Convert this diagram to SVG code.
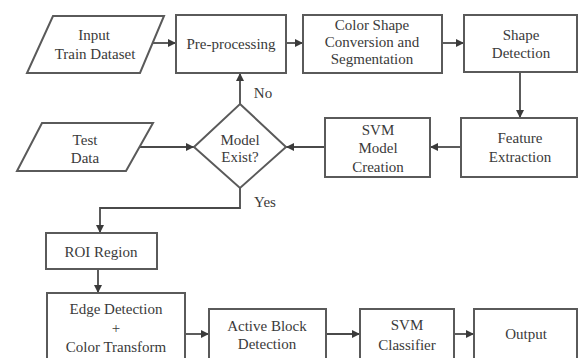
<svg xmlns="http://www.w3.org/2000/svg" width="579" height="358" viewBox="0 0 579 358" font-family="'Liberation Serif', 'DejaVu Serif', serif">
  <defs>
    <marker id="arrow" viewBox="0 0 10 10" refX="10" refY="5" markerWidth="8" markerHeight="8" markerUnits="userSpaceOnUse" orient="auto">
      <path d="M0,0 L10,5 L0,10 Z" fill="#3a3a3a"/>
    </marker>
    <style>
      .shape { fill: #ffffff; stroke: #5a5a5a; stroke-width: 2; }
      .label { font-family: 'Liberation Serif', 'DejaVu Serif', serif; font-size: 15px; fill: #3a3a3a; text-anchor: middle; }
      .conn { fill: none; stroke: #4a4a4a; stroke-width: 1.8; marker-end: url(#arrow); }
    </style>
  </defs>
  <rect width="579" height="358" fill="#ffffff"/>

  <!-- connectors -->
  <g id="connectors">
    <line class="conn" x1="152" y1="43" x2="176" y2="43"/>
    <line class="conn" x1="286" y1="43" x2="303" y2="43"/>
    <line class="conn" x1="442" y1="43" x2="464" y2="43"/>
    <line class="conn" x1="520" y1="72" x2="520" y2="118"/>
    <line class="conn" x1="461" y1="147" x2="430" y2="147"/>
    <line class="conn" x1="325" y1="147" x2="286" y2="147"/>
    <line class="conn" x1="140" y1="147" x2="194" y2="147"/>
    <line class="conn" x1="240" y1="104" x2="240" y2="73"/>
    <polyline class="conn" points="240,188 240,208 100,208 100,233"/>
    <line class="conn" x1="98" y1="269" x2="98" y2="293"/>
    <line class="conn" x1="185" y1="334" x2="209" y2="334"/>
    <line class="conn" x1="326" y1="334" x2="360" y2="334"/>
    <line class="conn" x1="454" y1="334" x2="474" y2="334"/>
    <text class="label" x="263" y="98">No</text>
    <text class="label" x="265" y="207">Yes</text>
  </g>

  <g id="input-train">
    <polygon class="shape" points="53,16 164,16 140,73 27,73"/>
    <text class="label" x="94" y="40">Input</text>
    <text class="label" x="95" y="59">Train Dataset</text>
  </g>

  <g id="preprocessing">
    <rect class="shape" x="176" y="15" width="110" height="58"/>
    <text class="label" x="231" y="49">Pre-processing</text>
  </g>

  <g id="color-shape">
    <rect class="shape" x="303" y="15" width="139" height="58"/>
    <text class="label" x="372" y="30">Color Shape</text>
    <text class="label" x="372" y="47">Conversion and</text>
    <text class="label" x="372" y="64">Segmentation</text>
  </g>

  <g id="shape-detection">
    <rect class="shape" x="464" y="15" width="113" height="57"/>
    <text class="label" x="521" y="40">Shape</text>
    <text class="label" x="521" y="58">Detection</text>
  </g>

  <g id="feature-extraction">
    <rect class="shape" x="461" y="118" width="116" height="59"/>
    <text class="label" x="520" y="143">Feature</text>
    <text class="label" x="520" y="162">Extraction</text>
  </g>

  <g id="svm-model">
    <rect class="shape" x="325" y="118" width="105" height="59"/>
    <text class="label" x="378" y="135">SVM</text>
    <text class="label" x="378" y="153">Model</text>
    <text class="label" x="378" y="172">Creation</text>
  </g>

  <g id="model-exist">
    <polygon class="shape" points="240,104 286,147 240,188 194,147"/>
    <text class="label" x="240" y="145">Model</text>
    <text class="label" x="240" y="162">Exist?</text>
  </g>

  <g id="test-data">
    <polygon class="shape" points="42,123 153,123 126,171 17,171"/>
    <text class="label" x="85" y="145">Test</text>
    <text class="label" x="85" y="163">Data</text>
  </g>

  <g id="roi-region">
    <rect class="shape" x="46" y="233" width="111" height="36"/>
    <text class="label" x="101" y="257">ROI Region</text>
  </g>

  <g id="edge-detection">
    <rect class="shape" x="47" y="293" width="138" height="70"/>
    <text class="label" x="116" y="314">Edge Detection</text>
    <text class="label" x="116" y="333">+</text>
    <text class="label" x="116" y="352">Color Transform</text>
  </g>

  <g id="active-block">
    <rect class="shape" x="209" y="309" width="117" height="54"/>
    <text class="label" x="267" y="331">Active Block</text>
    <text class="label" x="267" y="349">Detection</text>
  </g>

  <g id="svm-classifier">
    <rect class="shape" x="360" y="309" width="94" height="54"/>
    <text class="label" x="407" y="330">SVM</text>
    <text class="label" x="407" y="350">Classifier</text>
  </g>

  <g id="output">
    <rect class="shape" x="474" y="309" width="103" height="54"/>
    <text class="label" x="526" y="339">Output</text>
  </g>
</svg>
